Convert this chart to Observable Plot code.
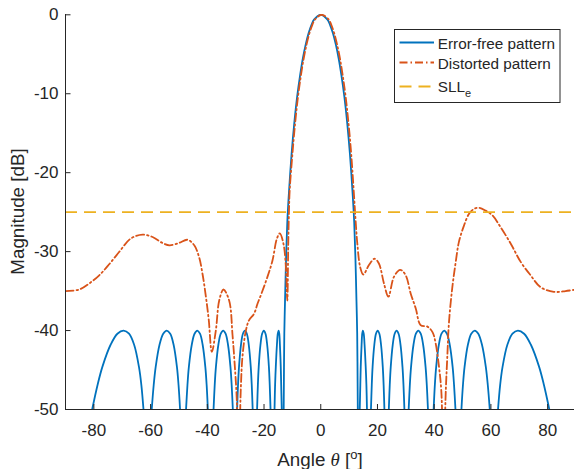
<!DOCTYPE html>
<html><head><meta charset="utf-8">
<script src="https://cdn.jsdelivr.net/npm/d3@7"></script>
<script src="https://cdn.jsdelivr.net/npm/@observablehq/plot@0.6"></script>
<style>
body{margin:0;background:#fff;}
#chart{position:relative;width:574px;height:469px;overflow:hidden;}
</style></head><body><div id="chart"></div>
<script>
// ---- data ----
const xTicks = [-80, -60, -40, -20, 0, 20, 40, 60, 80];
const yTicks = [0, -10, -20, -30, -40, -50];
const sllLevel = -25;
const seriesNames = ["Error-free pattern", "Distorted pattern", "SLL"];
const seriesColors = ["#0072BD", "#D95319", "#EDB120"];

// error-free pattern (null = break between lobes that drop below -50 dB)
const errorFreeAngle = [
  -80.6, -78.7, -77.0, -74.1, -71.7, -69.5, -67.6, -65.8, -64.1, -63.25, -62.5, null,
  -59.6, -58.9, -58.2, -56.85, -55.55, -54.3, -53.07, -51.88, -50.71, -50.14, -49.6, null,
  -47.5, -47.0, -46.5, -45.48, -44.5, -43.52, -42.58, -41.64, -40.7, -40.23, -39.8, null,
  -37.8, -37.39, -36.96, -36.1, -35.25, -34.4, -33.55, -32.7, -31.84, -31.41, -31.0, null,
  -29.5, -29.17, -28.82, -28.13, -27.44, -26.75, -26.06, -25.38, -24.68, -24.33, -24.0, null,
  -22.45, -22.17, -21.87, -21.26, -20.67, -20.08, -19.48, -18.89, -18.28, -17.99, -17.7, null,
  -16.3, -16.1, -15.85, -15.45, -15.15, -14.85, -14.62, -14.4, -14.1, -13.95, -13.75, null,
  -13.1, -13.0, -12.85, -12.6, -12.2, -11.8, -11.3, -10.3, -9.3, -8.3, -7.3, -6.3, -5.3, -4.3, -3.3, -2.3, 0,
  2.3, 3.3, 4.3, 5.3, 6.3, 7.3, 8.3, 9.3, 10.3, 11.3, 11.8, 12.2, 12.6, 12.85, 13.0, 13.1, null,
  13.75, 13.95, 14.1, 14.4, 14.62, 14.85, 15.15, 15.45, 15.85, 16.1, 16.3, null,
  17.7, 17.99, 18.28, 18.89, 19.48, 20.08, 20.67, 21.26, 21.87, 22.17, 22.45, null,
  24.0, 24.33, 24.68, 25.38, 26.06, 26.75, 27.44, 28.13, 28.82, 29.17, 29.5, null,
  31.0, 31.41, 31.84, 32.7, 33.55, 34.4, 35.25, 36.1, 36.96, 37.39, 37.8, null,
  39.8, 40.23, 40.7, 41.64, 42.58, 43.52, 44.5, 45.48, 46.5, 47.0, 47.5, null,
  49.6, 50.14, 50.71, 51.88, 53.07, 54.3, 55.55, 56.85, 58.2, 58.9, 59.6, null,
  62.5, 63.25, 64.1, 65.8, 67.6, 69.5, 71.7, 74.1, 77.0, 78.7, 80.6
];
const errorFreeDb = [
  -50, -46.9, -44.6, -41.8, -40.4, -40, -40.4, -41.8, -44.6, -46.9, -50, null,
  -50, -46.9, -44.6, -41.8, -40.4, -40, -40.4, -41.8, -44.6, -46.9, -50, null,
  -50, -46.9, -44.6, -41.8, -40.4, -40, -40.4, -41.8, -44.6, -46.9, -50, null,
  -50, -46.9, -44.6, -41.8, -40.4, -40, -40.4, -41.8, -44.6, -46.9, -50, null,
  -50, -46.9, -44.6, -41.8, -40.4, -40, -40.4, -41.8, -44.6, -46.9, -50, null,
  -50, -46.9, -44.6, -41.8, -40.4, -40, -40.4, -41.8, -44.6, -46.9, -50, null,
  -50, -46.9, -44.6, -41.8, -40.4, -40, -40.4, -41.8, -44.6, -46.9, -50, null,
  -52, -46.7, -40.4, -36.3, -30.5, -26.3, -23.0, -17.7, -13.6, -10.3, -7.7, -5.5, -3.75, -2.35, -1.3, -0.58, 0,
  -0.58, -1.3, -2.35, -3.75, -5.5, -7.7, -10.3, -13.6, -17.7, -23.0, -26.3, -30.5, -36.3, -40.4, -46.7, -52, null,
  -50, -46.9, -44.6, -41.8, -40.4, -40, -40.4, -41.8, -44.6, -46.9, -50, null,
  -50, -46.9, -44.6, -41.8, -40.4, -40, -40.4, -41.8, -44.6, -46.9, -50, null,
  -50, -46.9, -44.6, -41.8, -40.4, -40, -40.4, -41.8, -44.6, -46.9, -50, null,
  -50, -46.9, -44.6, -41.8, -40.4, -40, -40.4, -41.8, -44.6, -46.9, -50, null,
  -50, -46.9, -44.6, -41.8, -40.4, -40, -40.4, -41.8, -44.6, -46.9, -50, null,
  -50, -46.9, -44.6, -41.8, -40.4, -40, -40.4, -41.8, -44.6, -46.9, -50, null,
  -50, -46.9, -44.6, -41.8, -40.4, -40, -40.4, -41.8, -44.6, -46.9, -50
];

// distorted pattern
const distortedAngle = [
  -90, -85.2, -81.7, -78.1, -74.6, -71.1, -67.0, -62.8, -59.3, -55.8, -53.3, -50.0,
  -47.0, -44.6, -42.9, -41.7, -40.5, -39.5, -38.4, -37.0, -35.8, -34.3, -32.3, -31.1,
  -30.4, -29.7, -28.9, -28.2, -27.6, -26.4, -25.3, -23.5, -22.3, -21.0, -18.8, -17.0,
  -15.5, -14.45, -13.15, -12.3, -11.8, -11.45, -11.2, -10.95, -10.0, -9.0, -8.0, -7.0,
  -6.0, -5.0, -4.0, -3.0, -2.0, 0.3, 2.75, 3.75, 4.75, 5.75, 6.75, 7.75, 8.75, 9.75, 10.75,
  11.75, 12.3, 12.9, 13.9, 15.0, 17.0, 19.0, 20.5, 22.3, 23.85, 25.8, 28.0, 29.95, 31.7,
  33.5, 35.2, 37.6, 39.4, 40.5, 41.7, 42.5, 43.3, 44.1, 44.6, 45.2, 46.4, 47.6, 48.7,
  50.5, 52.3, 54.0, 55.8, 58.1, 60.5, 63.4, 67.0, 70.5, 74.0, 77.5, 82.2, 86.3, 90
];
const distortedDb = [
  -35.0, -34.8, -34.05, -33.0, -31.6, -30.05, -28.35, -27.85, -28.15, -28.9, -29.2, -28.9,
  -28.5, -29.2, -30.7, -32.8, -35.7, -38.6, -42.7, -40.0, -36.2, -34.8, -36.2, -40.6,
  -44.0, -48.0, -56, -47.5, -43.3, -40.0, -38.7, -37.85, -36.6, -35.4, -33.2, -31.1,
  -28.4, -27.7, -29.0, -31.9, -36.2, -28.8, -24.8, -22.2, -17.7, -13.6, -10.3, -7.7,
  -5.5, -3.75, -2.35, -1.3, -0.58, 0, -0.58, -1.3, -2.35, -3.75, -5.5, -7.7, -10.3, -13.6, -17.7,
  -23.0, -26.1, -29.0, -31.95, -32.9, -31.7, -30.9, -31.5, -34.05, -35.7, -33.2, -32.3, -33.0, -35.3,
  -37.2, -39.3, -39.5, -40.2, -41.6, -44.6, -47.6, -56, -47.5, -43.5, -39.0, -34.5, -31.3, -28.8,
  -26.7, -25.2, -24.6, -24.45, -24.8, -25.4, -26.9, -29.0, -31.3, -33.0, -34.5, -35.1, -35.0, -34.8
];

// ---- tables for the library ----
const errorFree = errorFreeAngle.map((a, i) => ({angle: a, db: errorFreeDb[i]}));
const distorted = distortedAngle.map((a, i) => ({angle: a, db: distortedDb[i]}));

const FONT = "'Liberation Sans', Arial, Helvetica, sans-serif";
const INK = "#262626";
const DASHDOT = "8,3,1.5,3";
const DASH = "12,7";

const plot = Plot.plot({
  width: 574,
  height: 469,
  marginLeft: 65,
  marginTop: 14,
  marginBottom: 60,
  marginRight: 0,
  x: {domain: [-90, 90], range: [65, 575.5]},
  y: {domain: [-50, 0], range: [409, 14.3]},
  style: {fontFamily: FONT, fontSize: "17px", color: INK, background: "white", overflow: "visible"},
  marks: [
    Plot.line(errorFree, {x: "angle", y: "db", stroke: seriesColors[0], strokeWidth: 1.8, curve: "catmull-rom", clip: true}),
    Plot.line(distorted, {x: "angle", y: "db", stroke: seriesColors[1], strokeWidth: 1.8, strokeDasharray: DASHDOT, curve: "catmull-rom", clip: true}),
    Plot.ruleY([sllLevel], {stroke: seriesColors[2], strokeWidth: 1.8, strokeDasharray: DASH}),
    Plot.axisX(xTicks, {tickSize: 0, tickPadding: 14, label: null, tickFormat: d => String(d), fill: INK}),
    Plot.axisY(yTicks, {tickSize: 0, tickPadding: 7, label: null, tickFormat: d => String(d), fill: INK}),
    Plot.tickX(xTicks, {x: d => d, insetTop: 390, stroke: INK, strokeWidth: 1}),
    Plot.tickY(yTicks, {y: d => d, insetRight: 503.5, stroke: INK, strokeWidth: 1}),
    Plot.ruleY([-50], {stroke: INK, strokeWidth: 1}),
    Plot.ruleX([-90], {stroke: INK, strokeWidth: 1})
  ]
});
document.getElementById("chart").appendChild(plot);

// ---- axis titles ----
const svg = d3.select(plot);
const xl = svg.append("text")
  .attr("x", 320).attr("y", 466).attr("text-anchor", "middle")
  .attr("font-family", FONT).attr("font-size", 18.8).attr("fill", INK);
xl.append("tspan").text("Angle ");
xl.append("tspan").attr("font-family", "'Liberation Serif', 'DejaVu Serif', serif").attr("font-style", "italic").text("θ");
xl.append("tspan").text(" [");
xl.append("tspan").attr("font-size", 13).attr("dy", -7.5).text("o");
xl.append("tspan").attr("dy", 7.5).text("]");

svg.append("text")
  .attr("transform", "translate(24,211.5) rotate(-90)")
  .attr("text-anchor", "middle")
  .attr("font-family", FONT).attr("font-size", 18.8).attr("fill", INK)
  .text("Magnitude [dB]");

// ---- legend ----
const lg = svg.append("g")
  .attr("font-family", FONT).attr("font-size", 15.3).attr("fill", INK)
  .attr("text-anchor", "start");
lg.append("rect").attr("x", 394.5).attr("y", 29.5).attr("width", 165.5).attr("height", 73)
  .attr("fill", "white").attr("stroke", INK).attr("stroke-width", 1);
const rows = [
  {ly: 42.5, ty: 48.8, dash: null},
  {ly: 62.5, ty: 68.8, dash: DASHDOT},
  {ly: 86.5, ty: 91.6, dash: DASH}
];
rows.forEach((r, i) => {
  const ln = lg.append("line").attr("x1", 399.5).attr("x2", 434).attr("y1", r.ly).attr("y2", r.ly)
    .attr("stroke", seriesColors[i]).attr("stroke-width", 1.8);
  if (r.dash) ln.attr("stroke-dasharray", r.dash);
  const t = lg.append("text").attr("x", 437.8).attr("y", r.ty).attr("text-anchor", "start").text(seriesNames[i]);
  if (i === 2) t.append("tspan").attr("font-size", 11).attr("dy", 5.8).text("e");
});
</script>
</body></html>
